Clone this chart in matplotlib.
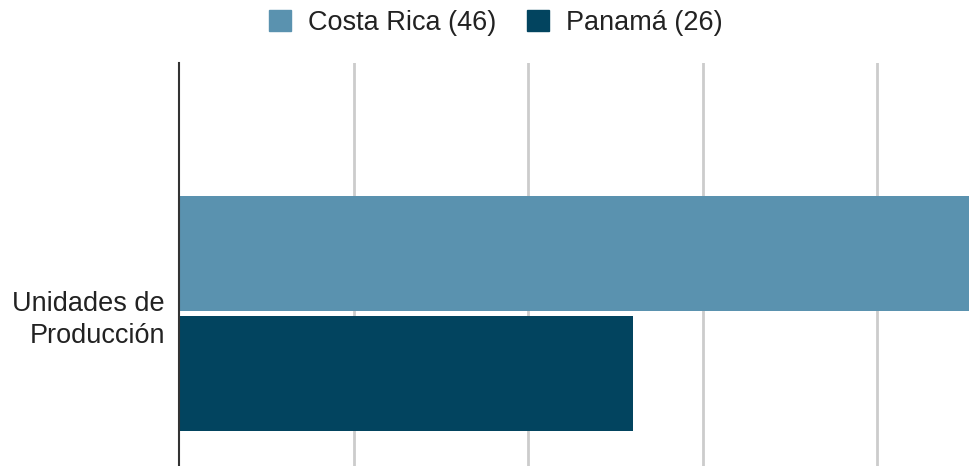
import matplotlib.pyplot as plt
from matplotlib.patches import Patch

# data
categories = ["Unidades de\nProducción"]
series = ["Costa Rica (46)", "Panamá (26)"]
costa_rica = [46]
panama = [26]
colors = ["#5a92af", "#02445f"]

plt.rcParams['font.family'] = ['Liberation Sans', 'DejaVu Sans']

fig = plt.figure(figsize=(9.69, 4.66), dpi=100)
ax = fig.add_axes([179 / 969, 0, 1 - 179 / 969, 1 - 63 / 466])

bar_h = 0.479
ax.barh([-0.25], costa_rica, height=bar_h, color=colors[0], zorder=2)
ax.barh([0.25], panama, height=bar_h, color=colors[1], zorder=2)

ax.set_xlim(0, 45.25)
ax.set_ylim(0.635, -1.044)
ax.set_xticks([10, 20, 30, 40])
ax.set_xticklabels([])
ax.tick_params(axis='x', length=0)
ax.grid(axis='x', color='#cccccc', linewidth=2, zorder=0)

ax.set_yticks([0])
ax.set_yticklabels(categories, fontsize=19.5, color='#222222',
                   linespacing=1.3)
ax.tick_params(axis='y', length=0, pad=10)

for side in ['top', 'right', 'bottom']:
    ax.spines[side].set_visible(False)
ax.spines['left'].set_color('#333333')
ax.spines['left'].set_linewidth(1.5)
ax.spines['left'].set_zorder(3)

handles = [Patch(facecolor=c, edgecolor=c) for c in colors]
fig.legend(handles, series, loc='center', bbox_to_anchor=(496 / 969, 1 - 23 / 466),
           ncol=2, frameon=False, fontsize=19.5, handlelength=0.8,
           handleheight=0.8, handletextpad=0.63, columnspacing=1.15,
           labelcolor='#222222', borderpad=0)

fig.savefig('out.png', dpi=100)
